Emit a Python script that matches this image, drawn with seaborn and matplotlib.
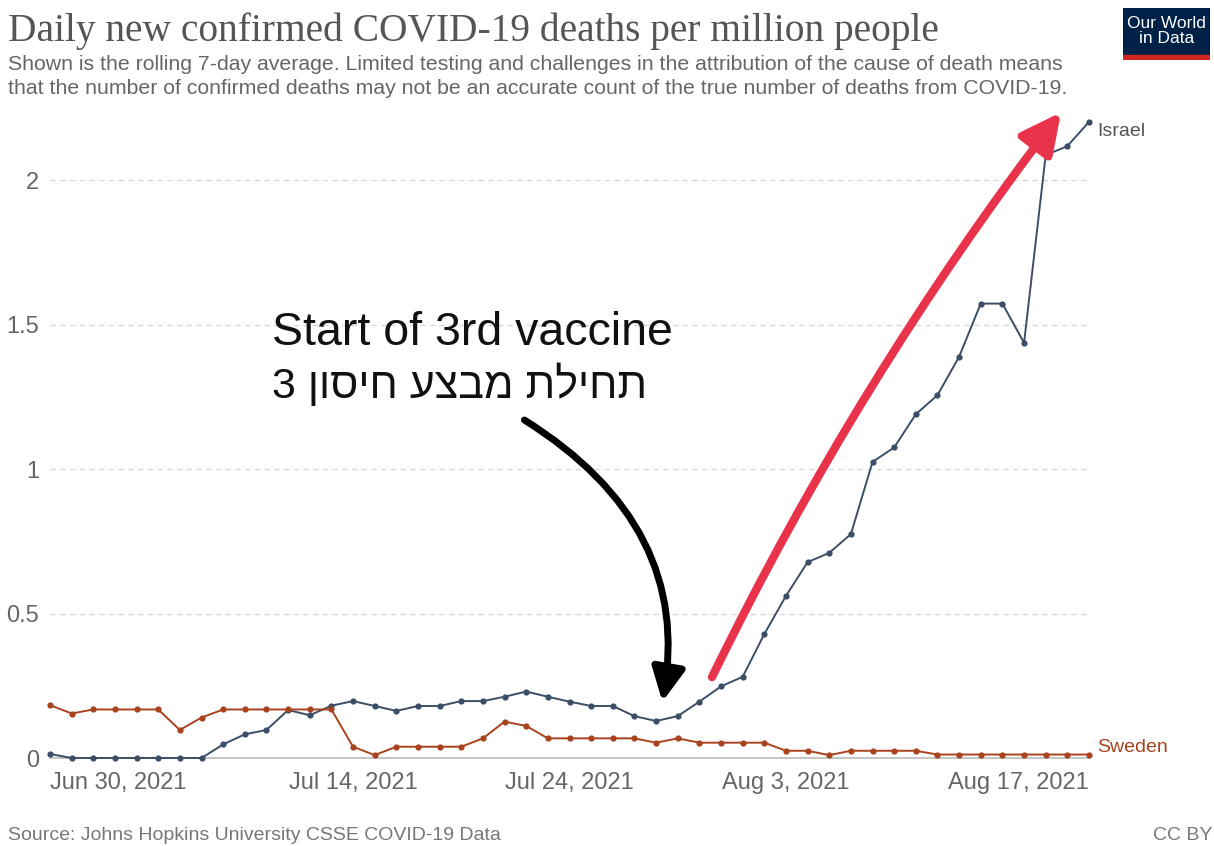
import pandas as pd
import numpy as np
import matplotlib
matplotlib.use('Agg')
import matplotlib.pyplot as plt
import seaborn as sns

# daily values, Jun 30 2021 .. Aug 17 2021
dates = pd.date_range('2021-06-30', '2021-08-17')

israel = [0.014, 0, 0, 0, 0, 0, 0, 0, 0.047, 0.082,
          0.097, 0.166, 0.148, 0.181, 0.197, 0.180, 0.163, 0.180, 0.180, 0.197,
          0.197, 0.212, 0.230, 0.212, 0.195, 0.180, 0.180, 0.145, 0.128, 0.145,
          0.195, 0.248, 0.281, 0.429, 0.561, 0.678, 0.710, 0.775, 1.025, 1.075,
          1.190, 1.256, 1.389, 1.573, 1.573, 1.437, 2.087, 2.118, 2.202]

sweden = [0.183, 0.154, 0.168, 0.168, 0.168, 0.168, 0.097, 0.140, 0.168, 0.168,
          0.168, 0.168, 0.168, 0.168, 0.039, 0.010, 0.039, 0.039, 0.039, 0.039,
          0.068, 0.126, 0.111, 0.068, 0.068, 0.068, 0.068, 0.068, 0.053, 0.068,
          0.053, 0.053, 0.053, 0.053, 0.025, 0.025, 0.010, 0.025, 0.025, 0.025,
          0.025, 0.012, 0.012, 0.012, 0.012, 0.012, 0.012, 0.012, 0.012]

countries = ['Israel', 'Sweden']
colors = {'Israel': '#3c4e66', 'Sweden': '#a9431e'}

tick_dates = pd.to_datetime(['2021-06-30', '2021-07-14', '2021-07-24', '2021-08-03', '2021-08-17'])
tick_labels = ['Jun 30, 2021', 'Jul 14, 2021', 'Jul 24, 2021', 'Aug 3, 2021', 'Aug 17, 2021']
y_ticks = [0, 0.5, 1, 1.5, 2]
y_labels = ['0', '0.5', '1', '1.5', '2']

title = 'Daily new confirmed COVID-19 deaths per million people'
subtitle = ('Shown is the rolling 7-day average. Limited testing and challenges in the attribution of the cause of death means\n'
            'that the number of confirmed deaths may not be an accurate count of the true number of deaths from COVID-19.')
note_en = 'Start of 3rd vaccine'
note_he = 'תחילת מבצע חיסון 3'

df = pd.DataFrame({'date': list(dates) * 2,
                   'value': israel + sweden,
                   'country': ['Israel'] * len(dates) + ['Sweden'] * len(dates)})

sns.set_style('white')
plt.rcParams['font.family'] = ['Liberation Sans', 'DejaVu Sans']

W, H = 1214, 846
fig = plt.figure(figsize=(W / 100, H / 100), dpi=100)
ax = fig.add_axes([50 / W, 1 - 758 / H, (1089 - 50) / W, (758 - 108) / H])

sns.lineplot(data=df, x='date', y='value', hue='country', palette=colors,
             marker='o', markersize=4.5, markeredgewidth=0, linewidth=1.4,
             legend=False, ax=ax, clip_on=False, zorder=3)

ax.set_xlim(dates[0], dates[-1])
ax.set_ylim(0, 2.25)
ax.set_xlabel('')
ax.set_ylabel('')

ax.set_yticks(y_ticks)
ax.set_yticklabels(y_labels)
ax.set_xticks(tick_dates)
ax.set_xticklabels(tick_labels)
xl = ax.get_xticklabels()
xl[0].set_ha('left')
xl[-1].set_ha('right')

ax.tick_params(axis='y', length=0, pad=8, labelsize=17, labelcolor='#666666')
ax.tick_params(axis='x', length=6, width=1, color='#bbbbbb', pad=4, labelsize=17, labelcolor='#666666')

for s in ['top', 'right', 'left']:
    ax.spines[s].set_visible(False)
ax.spines['bottom'].set_color('#bbbbbb')
ax.spines['bottom'].set_linewidth(1.2)

for v in y_ticks[1:]:
    ax.axhline(v, color='#d9d9d9', linewidth=1, linestyle=(0, (4, 3)), zorder=1)

# series labels at the line ends
ax.annotate('Israel', (dates[-1], israel[-1]), xytext=(6, -7), textcoords='offset points',
            fontsize=14, color='#555555', va='center', ha='left', annotation_clip=False)
ax.annotate('Sweden', (dates[-1], sweden[-1]), xytext=(6, 5), textcoords='offset points',
            fontsize=14, color=colors['Sweden'], va='center', ha='left', annotation_clip=False)

# hand drawn notes
ax.text(pd.Timestamp('2021-07-10 06:00'), 1.43, note_en, fontsize=33.5, color='#111111',
        ha='left', va='baseline')
ax.text(pd.Timestamp('2021-07-10 06:00'), 1.245, note_he[::-1], fontsize=31, color='#111111',
        ha='left', va='baseline', family=['Liberation Sans', 'DejaVu Sans'])

ax.annotate('', xy=(pd.Timestamp('2021-07-28 07:00'), 0.195),
            xytext=(pd.Timestamp('2021-07-21 22:00'), 1.17),
            arrowprops=dict(arrowstyle='-|>,head_length=2.0,head_width=1.0', color='black',
                            lw=5, connectionstyle='angle3,angleA=-32,angleB=80', shrinkA=0, shrinkB=0),
            zorder=5)
ax.annotate('', xy=(pd.Timestamp('2021-08-15 17:00'), 2.235),
            xytext=(pd.Timestamp('2021-07-30 14:00'), 0.28),
            arrowprops=dict(arrowstyle='-|>,head_length=2.4,head_width=1.2', color='#e8334a',
                            lw=6, connectionstyle='arc3,rad=-0.05', shrinkA=0, shrinkB=0),
            zorder=5, annotation_clip=False)

# header
fig.text(8 / W, 1 - 41 / H, title, fontsize=28.4, color='#555555', family='Liberation Serif',
         ha='left', va='baseline')
fig.text(8 / W, 1 - 94 / H, subtitle, fontsize=15.3, color='#666666', ha='left', va='baseline',
         linespacing=1.3)

# logo
logo = fig.add_axes([1123 / W, 1 - 60 / H, 87 / W, 52 / H])
logo.set_xlim(0, 1)
logo.set_ylim(0, 1)
logo.axis('off')
logo.add_patch(plt.Rectangle((0, 0.1), 1, 0.9, color='#002147'))
logo.add_patch(plt.Rectangle((0, 0), 1, 0.1, color='#ce261e'))
logo.text(0.5, 0.56, 'Our World\nin Data', color='white', fontsize=12.5, ha='center', va='center',
          linespacing=1.0)

# footer
fig.text(8 / W, 1 - 840 / H, 'Source: Johns Hopkins University CSSE COVID-19 Data', fontsize=14,
         color='#777777', ha='left', va='baseline')
fig.text(1212 / W, 1 - 840 / H, 'CC BY', fontsize=14, color='#777777', ha='right', va='baseline')

fig.savefig('out.png', dpi=100)
